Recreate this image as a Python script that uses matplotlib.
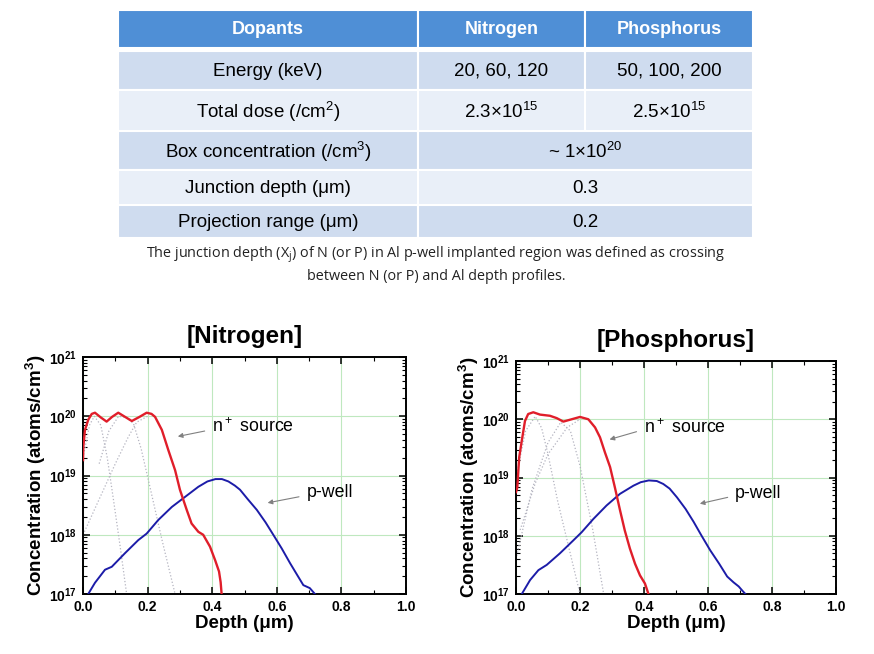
import matplotlib
matplotlib.use('Agg')
import matplotlib.pyplot as plt
from matplotlib.patches import Rectangle
from matplotlib.ticker import FuncFormatter, LogLocator, MultipleLocator
import numpy as np

plt.rcParams['font.family'] = ['Liberation Sans', 'DejaVu Sans']
plt.rcParams['mathtext.fontset'] = 'custom'
plt.rcParams['mathtext.rm'] = 'Liberation Sans'
plt.rcParams['mathtext.bf'] = 'Liberation Sans:bold'
plt.rcParams['mathtext.default'] = 'regular'

# table contents
col_headers = ['Dopants', 'Nitrogen', 'Phosphorus']
row_labels = ['Energy (keV)', 'Total dose (/cm$^2$)', 'Box concentration (/cm$^3$)',
              'Junction depth (μm)', 'Projection range (μm)']
nitrogen_vals = ['20, 60, 120', '2.3×10$^{15}$', '~ 1×10$^{20}$', '0.3', '0.2']
phosphorus_vals = ['50, 100, 200', '2.5×10$^{15}$', None, None, None]
caption = ('The junction depth (X$_j$) of N (or P) in Al p-well implanted region was defined as crossing\n'
           'between N (or P) and Al depth profiles.')

# nitrogen profiles (depth um, log10 concentration)
n_red_x = [0.0, 0.001, 0.006, 0.016, 0.027, 0.037, 0.055, 0.073, 0.09, 0.109, 0.13, 0.151,
           0.175, 0.197, 0.212, 0.223, 0.244, 0.264, 0.285, 0.3, 0.321, 0.336, 0.357, 0.372,
           0.393, 0.409, 0.421, 0.426, 0.429]
n_red_y = [19.26, 19.49, 19.77, 19.94, 20.04, 20.06, 19.98, 19.91, 19.99, 20.06, 19.99, 19.92,
           19.99, 20.06, 20.04, 19.99, 19.77, 19.43, 19.09, 18.76, 18.42, 18.19, 18.05, 18.0,
           17.8, 17.57, 17.38, 17.2, 17.0]
n_blue_x = [0.016, 0.037, 0.068, 0.089, 0.13, 0.171, 0.197, 0.233, 0.275, 0.316, 0.357,
            0.385, 0.41, 0.43, 0.45, 0.47, 0.486, 0.51, 0.538, 0.565, 0.589, 0.615, 0.641,
            0.662, 0.682, 0.702, 0.718]
n_blue_y = [17.0, 17.19, 17.41, 17.46, 17.69, 17.91, 18.02, 18.25, 18.47, 18.64, 18.81,
            18.9, 18.94, 18.94, 18.9, 18.83, 18.76, 18.6, 18.42, 18.21, 18.0, 17.77, 17.52,
            17.33, 17.15, 17.1, 17.0]
n_comp = [
    ([0.0, 0.02, 0.035, 0.055, 0.075, 0.094, 0.115, 0.135],
     [19.3, 19.85, 20.0, 19.85, 19.3, 18.6, 17.8, 17.0]),
    ([0.05, 0.08, 0.11, 0.135, 0.156, 0.18, 0.207, 0.245, 0.285],
     [19.2, 19.75, 20.0, 19.98, 19.88, 19.45, 18.81, 17.9, 17.0]),
    ([0.0, 0.05, 0.1, 0.14, 0.166, 0.2],
     [18.0, 18.6, 19.2, 19.65, 19.9, 20.0]),
]

# phosphorus profiles
p_red_x = [0.0, 0.004, 0.01, 0.018, 0.028, 0.038, 0.054, 0.075, 0.106, 0.127, 0.148,
           0.174, 0.2, 0.226, 0.247, 0.2625, 0.278, 0.294, 0.309, 0.325, 0.34, 0.356,
           0.372, 0.3875, 0.403, 0.414]
p_red_y = [18.75, 18.83, 19.35, 19.63, 19.97, 20.09, 20.12, 20.08, 20.06, 20.02, 19.96,
           20.0, 20.04, 20.0, 19.86, 19.69, 19.43, 19.18, 18.83, 18.44, 18.09, 17.78,
           17.52, 17.32, 17.18, 17.0]
p_blue_x = [0.018, 0.044, 0.07, 0.096, 0.1375, 0.179, 0.205, 0.242, 0.283, 0.325, 0.367,
            0.39, 0.415, 0.44, 0.46, 0.48, 0.503, 0.53, 0.555, 0.58, 0.607, 0.635, 0.66,
            0.68, 0.696, 0.707, 0.717]
p_blue_y = [17.0, 17.24, 17.41, 17.5, 17.7, 17.92, 18.06, 18.29, 18.52, 18.72, 18.86,
            18.92, 18.95, 18.94, 18.89, 18.81, 18.66, 18.46, 18.24, 18.0, 17.75, 17.52, 17.3,
            17.2, 17.13, 17.06, 17.0]
p_comp = [
    ([0.0, 0.03, 0.06, 0.08, 0.1, 0.13, 0.165, 0.2],
     [19.0, 19.8, 20.05, 19.85, 19.4, 18.6, 17.8, 17.0]),
    ([0.0, 0.05, 0.1, 0.14, 0.17, 0.2, 0.24, 0.274],
     [17.6, 18.8, 19.6, 19.95, 19.8, 19.2, 18.1, 17.0]),
    ([0.013, 0.06, 0.1, 0.16, 0.2],
     [18.1, 18.9, 19.4, 19.86, 20.0]),
]

fig = plt.figure(figsize=(8.74, 6.54), dpi=100)

# --- table drawn in pixel coordinates on an overlay axes
tab = fig.add_axes([0, 0, 1, 1])
tab.set_xlim(0, 874)
tab.set_ylim(654, 0)
tab.axis('off')

col_edges = [118, 418, 585, 753]
row_edges = [10, 48, 90, 131, 170, 205, 238]
header_col = '#4f8fd6'
row_cols = ['#cfdcef', '#e9eff8']

for c in range(3):
    tab.add_patch(Rectangle((col_edges[c], row_edges[0]), col_edges[c + 1] - col_edges[c],
                            row_edges[1] - row_edges[0], facecolor=header_col,
                            edgecolor='white', lw=1.5))
    tab.text((col_edges[c] + col_edges[c + 1]) / 2, (row_edges[0] + row_edges[1]) / 2 + 1,
             col_headers[c], color='white', fontweight='bold', fontsize=13,
             ha='center', va='center')

for r, label in enumerate(row_labels):
    y0, y1 = row_edges[r + 1], row_edges[r + 2]
    fc = row_cols[r % 2]
    if r == 0:
        y0 += 3
    tab.add_patch(Rectangle((col_edges[0], y0), col_edges[1] - col_edges[0], y1 - y0,
                            facecolor=fc, edgecolor='white', lw=1.5))
    yc = (y0 + y1) / 2 + 1
    tab.text((col_edges[0] + col_edges[1]) / 2, yc, label, fontsize=13.5, ha='center', va='center')
    if phosphorus_vals[r] is None:
        tab.add_patch(Rectangle((col_edges[1], y0), col_edges[3] - col_edges[1], y1 - y0,
                                facecolor=fc, edgecolor='white', lw=1.5))
        tab.text((col_edges[1] + col_edges[3]) / 2, yc, nitrogen_vals[r], fontsize=13.5,
                 ha='center', va='center')
    else:
        for c, val in zip([1, 2], [nitrogen_vals[r], phosphorus_vals[r]]):
            tab.add_patch(Rectangle((col_edges[c], y0), col_edges[c + 1] - col_edges[c], y1 - y0,
                                    facecolor=fc, edgecolor='white', lw=1.5))
            tab.text((col_edges[c] + col_edges[c + 1]) / 2, yc, val, fontsize=13.5,
                     ha='center', va='center')

tab.text(436, 264, caption, fontsize=10.4, ha='center', va='center', family='Open Sans',
         linespacing=1.35, color='#222222')


def log_fmt(v, pos):
    return r'$\mathbf{10^{%d}}$' % int(round(np.log10(v)))


def profile_axes(rect, title, red, blue, comps, notes):
    ax = fig.add_axes(rect)
    for cx, cy in comps:
        ax.plot(cx, 10 ** np.array(cy), color='#b4b4c0', ls=':', lw=0.9, zorder=2)
    ax.plot(blue[0], 10 ** np.array(blue[1]), color='#1c1ca8', lw=1.4, zorder=3)
    ax.plot(red[0], 10 ** np.array(red[1]), color='#e01e2a', lw=1.7, zorder=4)
    ax.set_yscale('log')
    ax.set_xlim(0, 1.0)
    ax.set_ylim(1e17, 1e21)
    ax.xaxis.set_major_locator(MultipleLocator(0.2))
    ax.xaxis.set_minor_locator(MultipleLocator(0.1))
    ax.yaxis.set_major_locator(LogLocator(base=10, numticks=10))
    ax.yaxis.set_minor_locator(LogLocator(base=10, subs=np.arange(2, 10), numticks=20))
    ax.yaxis.set_major_formatter(FuncFormatter(log_fmt))
    ax.xaxis.set_major_formatter(FuncFormatter(lambda v, p: '%.1f' % v))
    ax.tick_params(which='both', direction='in', top=True, right=True)
    ax.tick_params(which='major', length=5, width=1.1, labelsize=10, pad=4)
    ax.tick_params(which='minor', length=3, width=0.8)
    for lab in ax.get_xticklabels():
        lab.set_fontweight('bold')
    ax.grid(True, which='major', color='#bfe8bf', lw=0.8)
    ax.set_axisbelow(True)
    for s in ax.spines.values():
        s.set_linewidth(1.4)
    ax.set_xlabel('Depth (μm)', fontsize=13.5, fontweight='bold', labelpad=1)
    ax.set_ylabel(r'Concentration (atoms/cm$^\mathbf{3}$)', fontsize=13.5, fontweight='bold',
                  labelpad=1)
    ax.set_title(title, fontsize=17.5, fontweight='bold', pad=10)
    for txt, tx, ty, ax0, ay0 in notes:
        ax.annotate('', xy=(ax0, 10 ** ay0), xytext=(tx - 0.015, 10 ** (ty - 0.06)),
                    arrowprops=dict(arrowstyle='-|>', color='#808080', lw=0.8,
                                    mutation_scale=7))
        ax.text(tx, 10 ** ty, txt, fontsize=12.8, ha='left', va='center')
    return ax


profile_axes([0.095, 0.0917, 0.3696, 0.3624], '[Nitrogen]',
             (n_red_x, n_red_y), (n_blue_x, n_blue_y), n_comp,
             [('n$^+$ source', 0.40, 19.82, 0.285, 19.65),
              ('p-well', 0.692, 18.71, 0.563, 18.53)])
profile_axes([0.5904, 0.0917, 0.3661, 0.3563], '[Phosphorus]',
             (p_red_x, p_red_y), (p_blue_x, p_blue_y), p_comp,
             [('n$^+$ source', 0.40, 19.86, 0.284, 19.64),
              ('p-well', 0.685, 18.73, 0.566, 18.54)])

fig.savefig('out.png', dpi=100)
